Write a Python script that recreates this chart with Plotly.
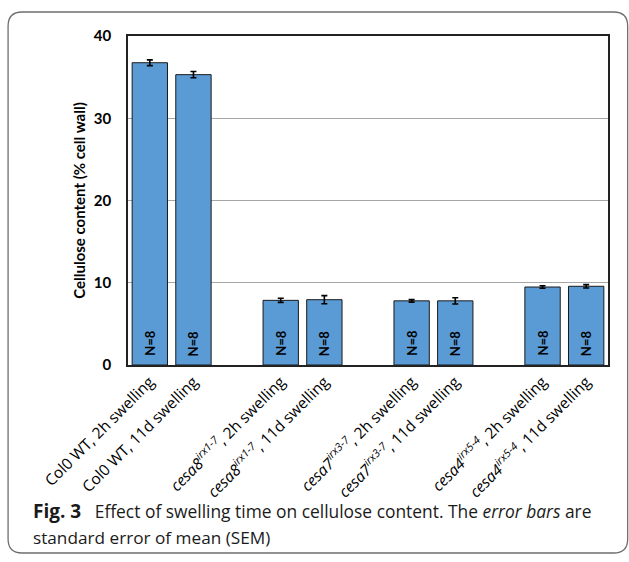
import plotly.graph_objects as go

# ---- data ----
labels = [
    "Col0 WT, 2h swelling",
    "Col0 WT, 11d swelling",
    "<i>cesa8</i><sup><i>irx1-7</i></sup>, 2h swelling",
    "<i>cesa8</i><sup><i>irx1-7</i></sup>, 11d swelling",
    "<i>cesa7</i><sup><i>irx3-7</i></sup>, 2h swelling",
    "<i>cesa7</i><sup><i>irx3-7</i></sup>, 11d swelling",
    "<i>cesa4</i><sup><i>irx5-4</i></sup>, 2h swelling",
    "<i>cesa4</i><sup><i>irx5-4</i></sup>, 11d swelling",
]
values = [36.75, 35.3, 7.86, 7.94, 7.8, 7.8, 9.48, 9.57]
sem = [0.35, 0.38, 0.25, 0.5, 0.15, 0.38, 0.15, 0.2]
n_text = ["N=8"] * 8
bars_per_group = 2
y_ticks = [0, 10, 20, 30, 40]

# positions: groups separated by one empty slot
pos = [(i // bars_per_group) * (bars_per_group + 1) + (i % bars_per_group) for i in range(len(values))]

W, H = 629, 562
L, R, T, B = 128, 608.3, 36, 365  # plot area px

fig = go.Figure()
fig.add_trace(go.Bar(
    x=pos, y=values, width=0.81,
    marker=dict(color="#5b9bd5", line=dict(color="#1a1a1a", width=1)),
    error_y=dict(type="data", array=sem, color="black", thickness=1.6, width=3),
    hoverinfo="skip",
))

for p, t in zip(pos, n_text):
    fig.add_annotation(x=p, y=0, yshift=22, text=f"<b>{t}</b>", textangle=-90,
                       showarrow=False, xanchor="center", yanchor="middle",
                       font=dict(family="Lato", size=13, color="black"))

fig.update_layout(
    width=W, height=H,
    margin=dict(l=L, r=W - R, t=T, b=H - B, autoexpand=False),
    paper_bgcolor="white", plot_bgcolor="white",
    showlegend=False,
    font=dict(family="Lato", color="black"),
    xaxis=dict(
        range=[-0.5, 10.5], tickmode="array", tickvals=pos, ticktext=labels,
        tickangle=-45, tickfont=dict(family="Open Sans", size=15.5, color="black"),
        showline=True, linecolor="#222", linewidth=1.5, mirror=True,
        showgrid=False, zeroline=False, ticks="", automargin=False,
    ),
    yaxis=dict(
        range=[0, 40], tickmode="array", tickvals=y_ticks,
        tickfont=dict(family="Lato", size=15, color="black", weight="bold"),
        showline=True, linecolor="#222", linewidth=1.5, mirror=True,
        showgrid=True, gridcolor="#a6a6a6", gridwidth=1, zeroline=False,
        ticks="", ticklabelstandoff=12, automargin=False,
        title=dict(text="Cellulose content (% cell wall)",
                   font=dict(family="Lato", size=15, color="black", weight="bold"),
                   standoff=5),
    ),
)

# rounded outer frame (pixel -> paper)
def px(x):
    return (x - L) / (R - L)

def py(y):
    return (B - y) / (B - T)

x0, y0, x1, y1, r = 8, 12, 628, 553, 14
path = (
    f"M {px(x0)},{py(y0 + r)} "
    f"Q {px(x0)},{py(y0)} {px(x0 + r)},{py(y0)} "
    f"L {px(x1 - r)},{py(y0)} "
    f"Q {px(x1)},{py(y0)} {px(x1)},{py(y0 + r)} "
    f"L {px(x1)},{py(y1 - r)} "
    f"Q {px(x1)},{py(y1)} {px(x1 - r)},{py(y1)} "
    f"L {px(x0 + r)},{py(y1)} "
    f"Q {px(x0)},{py(y1)} {px(x0)},{py(y1 - r)} Z"
)
fig.add_shape(type="path", path=path, xref="paper", yref="paper",
              line=dict(color="#6e6e6e", width=1.3), layer="below")

# caption
fig.add_annotation(
    text="<span style='font-size:19px'><b>Fig. 3</b></span>&nbsp;&nbsp;&nbsp;Effect of swelling time on cellulose content. The <i>error bars</i> are",
    xref="paper", yref="paper", x=px(31), y=py(511), xanchor="left", yanchor="middle",
    showarrow=False, font=dict(family="Open Sans", size=17.4, color="#1a1a1a"),
)
fig.add_annotation(
    text="standard error of mean (SEM)",
    xref="paper", yref="paper", x=px(31), y=py(537), xanchor="left", yanchor="middle",
    showarrow=False, font=dict(family="Open Sans", size=17.2, color="#1a1a1a"),
)

fig.write_html("out.html", post_script="document.body.style.margin='0';",
               config={"displayModeBar": False})
